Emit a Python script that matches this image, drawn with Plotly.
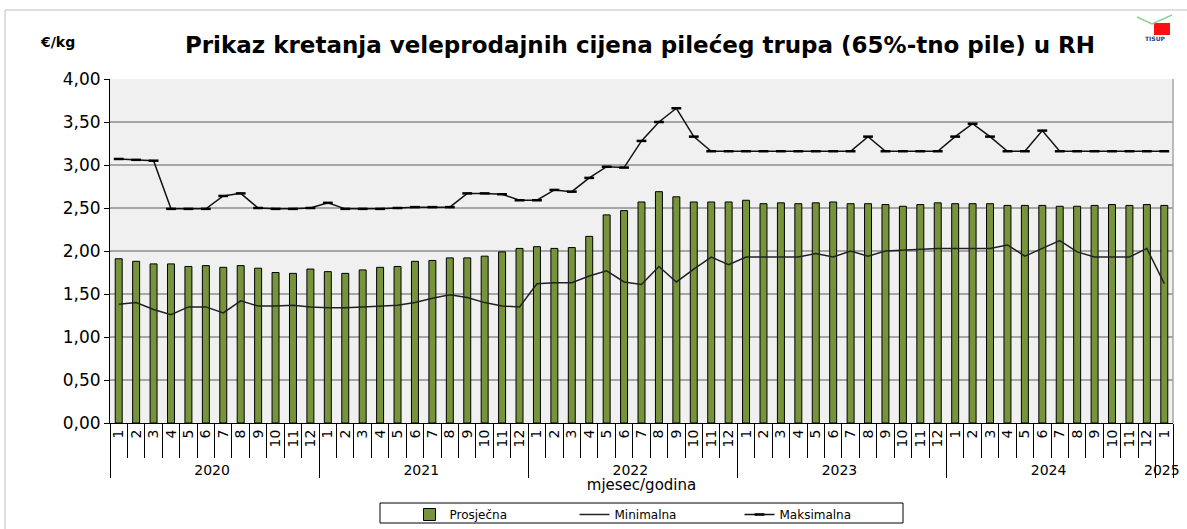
import plotly.graph_objects as go

years = ["2020"] * 12 + ["2021"] * 12 + ["2022"] * 12 + ["2023"] * 12 + ["2024"] * 12 + ["2025"]
months = [str(m) for m in range(1, 13)] * 5 + ["1"]

prosjecna = [1.91, 1.88, 1.85, 1.85, 1.82, 1.83, 1.81, 1.83, 1.80, 1.75, 1.74, 1.79,
             1.76, 1.74, 1.78, 1.81, 1.82, 1.88, 1.89, 1.92, 1.92, 1.94, 1.99, 2.03,
             2.05, 2.03, 2.04, 2.17, 2.42, 2.47, 2.57, 2.69, 2.63, 2.57, 2.57, 2.57,
             2.59, 2.55, 2.56, 2.55, 2.56, 2.57, 2.55, 2.55, 2.54, 2.52, 2.54, 2.56,
             2.55, 2.55, 2.55, 2.53, 2.53, 2.53, 2.52, 2.52, 2.53, 2.54, 2.53, 2.54,
             2.53]
minimalna = [1.38, 1.40, 1.32, 1.26, 1.35, 1.35, 1.28, 1.42, 1.36, 1.36, 1.37, 1.35,
             1.34, 1.34, 1.35, 1.36, 1.37, 1.40, 1.45, 1.49, 1.46, 1.40, 1.36, 1.35,
             1.62, 1.63, 1.63, 1.71, 1.77, 1.64, 1.61, 1.82, 1.64, 1.79, 1.93, 1.84,
             1.93, 1.93, 1.93, 1.93, 1.97, 1.93, 2.00, 1.94, 2.00, 2.01, 2.02, 2.03,
             2.03, 2.03, 2.03, 2.07, 1.94, 2.03, 2.12, 1.99, 1.93, 1.93, 1.93, 2.03,
             1.62]
maksimalna = [3.07, 3.06, 3.05, 2.49, 2.49, 2.49, 2.64, 2.67, 2.50, 2.49, 2.49, 2.50,
              2.56, 2.49, 2.49, 2.49, 2.50, 2.51, 2.51, 2.51, 2.67, 2.67, 2.66, 2.59,
              2.59, 2.71, 2.69, 2.85, 2.98, 2.97, 3.28, 3.50, 3.66, 3.33, 3.16, 3.16,
              3.16, 3.16, 3.16, 3.16, 3.16, 3.16, 3.16, 3.33, 3.16, 3.16, 3.16, 3.16,
              3.33, 3.48, 3.33, 3.16, 3.16, 3.40, 3.16, 3.16, 3.16, 3.16, 3.16, 3.16,
              3.16]

x = [years, months]
FONT = "DejaVu Sans, Liberation Sans, Arial, sans-serif"

fig = go.Figure()
fig.add_trace(go.Bar(
    x=x, y=prosjecna, name="Prosječna",
    marker=dict(color="#77933C", line=dict(color="#000000", width=1)),
))
fig.add_trace(go.Scatter(
    x=x, y=minimalna, name="Minimalna", mode="lines",
    line=dict(color="#222222", width=1.5),
))
fig.add_trace(go.Scatter(
    x=x, y=maksimalna, name="Maksimalna", mode="lines+markers",
    line=dict(color="#111111", width=1.5),
    marker=dict(symbol="line-ew", size=7, line=dict(color="#000000", width=2.5)),
))

L, R, T, B = 110, 1173, 79, 423
W, H = 1187, 529
pw, ph = R - L, B - T

def px(v):
    return (v - L) / pw

def py(v):
    return (B - v) / ph

fig.update_layout(
    width=W, height=H,
    margin=dict(l=L, r=W - R, t=T, b=H - B, autoexpand=False),
    paper_bgcolor="white", plot_bgcolor="#F0F0F0",
    separators=",.",
    bargap=0.6,
    font=dict(family=FONT, color="#000000", size=14),
    title=dict(text="<b>Prikaz kretanja veleprodajnih cijena pilećeg trupa (65%-tno pile) u RH</b>",
               x=640 / W, xanchor="center", y=1 - 45 / H, yanchor="middle",
               font=dict(size=23, family=FONT)),
    showlegend=True,
    legend=dict(orientation="h", x=px(657), xanchor="center", y=py(500), yanchor="top",
                bgcolor="rgba(0,0,0,0)", borderwidth=0, font=dict(size=12),
                traceorder="normal", entrywidth=120, entrywidthmode="pixels"),
    xaxis=dict(
        type="multicategory", range=[-0.5, 60.5], dtick=1,
        showgrid=False, showline=True, linecolor="#000000",
        ticks="outside", tickson="boundaries", ticklen=34, tickcolor="#000000",
        tickangle=-90, tickfont=dict(size=14),
        showdividers=True, dividercolor="#000000", dividerwidth=1,
        title=dict(text="mjesec/godina", font=dict(size=15), standoff=2),
        automargin=False,
    ),
    yaxis=dict(
        range=[0, 4], dtick=0.5, tickformat=".2f", showgrid=True,
        gridcolor="#A6A6A6", gridwidth=1.5, showline=True, linecolor="#000000",
        ticks="outside", ticklen=5, tickcolor="#000000", zeroline=False,
        tickfont=dict(size=17), automargin=False,
    ),
    annotations=[
        dict(text="<b>€/kg</b>", xref="paper", yref="paper", x=px(38), y=py(42),
             xanchor="left", yanchor="middle", showarrow=False, font=dict(size=14)),
        dict(text="<b>TISUP</b>", xref="paper", yref="paper", x=px(1155), y=py(38),
             xanchor="center", yanchor="middle", showarrow=False,
             font=dict(size=6, color="#1F3C88")),
    ],
    shapes=[
        dict(type="rect", xref="paper", yref="paper", x0=px(5), x1=px(1192), y0=py(535), y1=py(10),
             line=dict(color="#BFBFBF", width=1), layer="below"),
        dict(type="line", xref="paper", yref="paper", x0=1, x1=1, y0=0, y1=1,
             line=dict(color="#A6A6A6", width=1.5)),
        dict(type="rect", xref="paper", yref="paper", x0=px(380), x1=px(903), y0=py(523), y1=py(503),
             line=dict(color="#000000", width=1)),
        dict(type="rect", xref="paper", yref="paper", x0=px(1154), x1=px(1170), y0=py(35), y1=py(23),
             fillcolor="#FF1010", line=dict(width=0)),
        dict(type="path", xref="paper", yref="paper",
             path=f"M {px(1137)} {py(17)} L {px(1152)} {py(24)} L {px(1172)} {py(15)}",
             line=dict(color="#8FD08F", width=1.5)),
    ],
)

fig.write_html("out.html", config={"displayModeBar": False},
               post_script="document.body.style.margin='0px';document.body.style.overflow='hidden';")
